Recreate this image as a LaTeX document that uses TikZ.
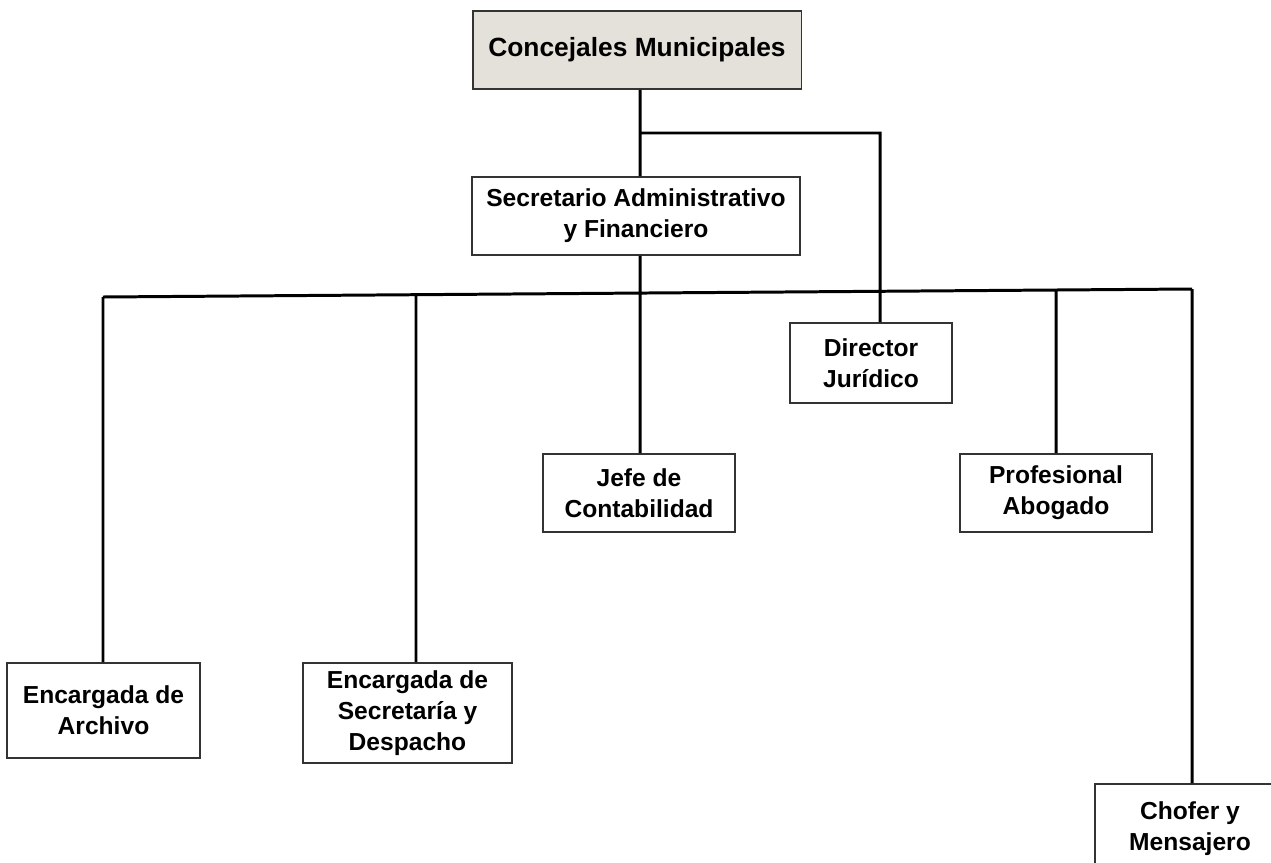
\documentclass[tikz,border=0pt]{standalone}
\usepackage{fontspec}
\setmainfont{Liberation Sans}
\definecolor{topfill}{HTML}{E3E1D9}
\tikzset{box/.style={draw=black!80, line width=1.1pt, fill=white, align=center,
    inner sep=2pt, font=\fontsize{14}{17.6}\selectfont\bfseries},
  link/.style={line width=1.7pt}}

\begin{document}
\begin{tikzpicture}[x=0.02cm, y=-0.02cm]
    \useasboundingbox (0,0) rectangle (1271,862);
    \clip (0,0) rectangle (1271,862);
    \node[box, fill=topfill, minimum width=6.58cm, minimum height=1.56cm,
          font=\fontsize{15}{18}\selectfont\bfseries] (conc) at (637,50) {Concejales Municipales};
    \node[box, minimum width=6.56cm, minimum height=1.56cm] (sec) at (636,216) {Secretario Administrativo\\y Financiero};
    \node[box, minimum width=3.24cm, minimum height=1.6cm] (dir) at (871,363) {Director\\Jurídico};
    \node[box, minimum width=3.84cm, minimum height=1.56cm] (jefe) at (639,493) {Jefe de\\Contabilidad};
    \node[box, minimum width=3.84cm, minimum height=1.56cm] (prof) at (1056,493) {Profesional\\Abogado};
    \node[box, minimum width=3.86cm, minimum height=1.9cm] (arch) at (103.5,710.5) {Encargada de\\Archivo};
    \node[box, minimum width=4.18cm, minimum height=2cm] (desp) at (407.5,713) {Encargada de\\Secretaría y\\Despacho};
    \node[box, minimum width=3.8cm, minimum height=1.8cm] (chof) at (1190,829) {Chofer y\\Mensajero};
    \coordinate (spine) at (640,133);
    \coordinate (djn) at (880,133);
    \coordinate (busL) at (103,297);
    \coordinate (busR) at (1192,289);
    \coordinate (bdesp) at (416,296);
    \coordinate (bprof) at (1056,290);
    \draw[link] (conc.south -| spine) -- (sec.north -| spine)
          (spine) -- (djn) -- (dir.north -| djn)
          (sec.south -| spine) -- (jefe.north -| spine)
          (busL) -- (busR)
          (busL) -- (arch.north -| busL)
          (bdesp) -- (desp.north -| bdesp)
          (bprof) -- (prof.north)
          (busR) -- (chof.north -| busR);
\end{tikzpicture}
\end{document}
